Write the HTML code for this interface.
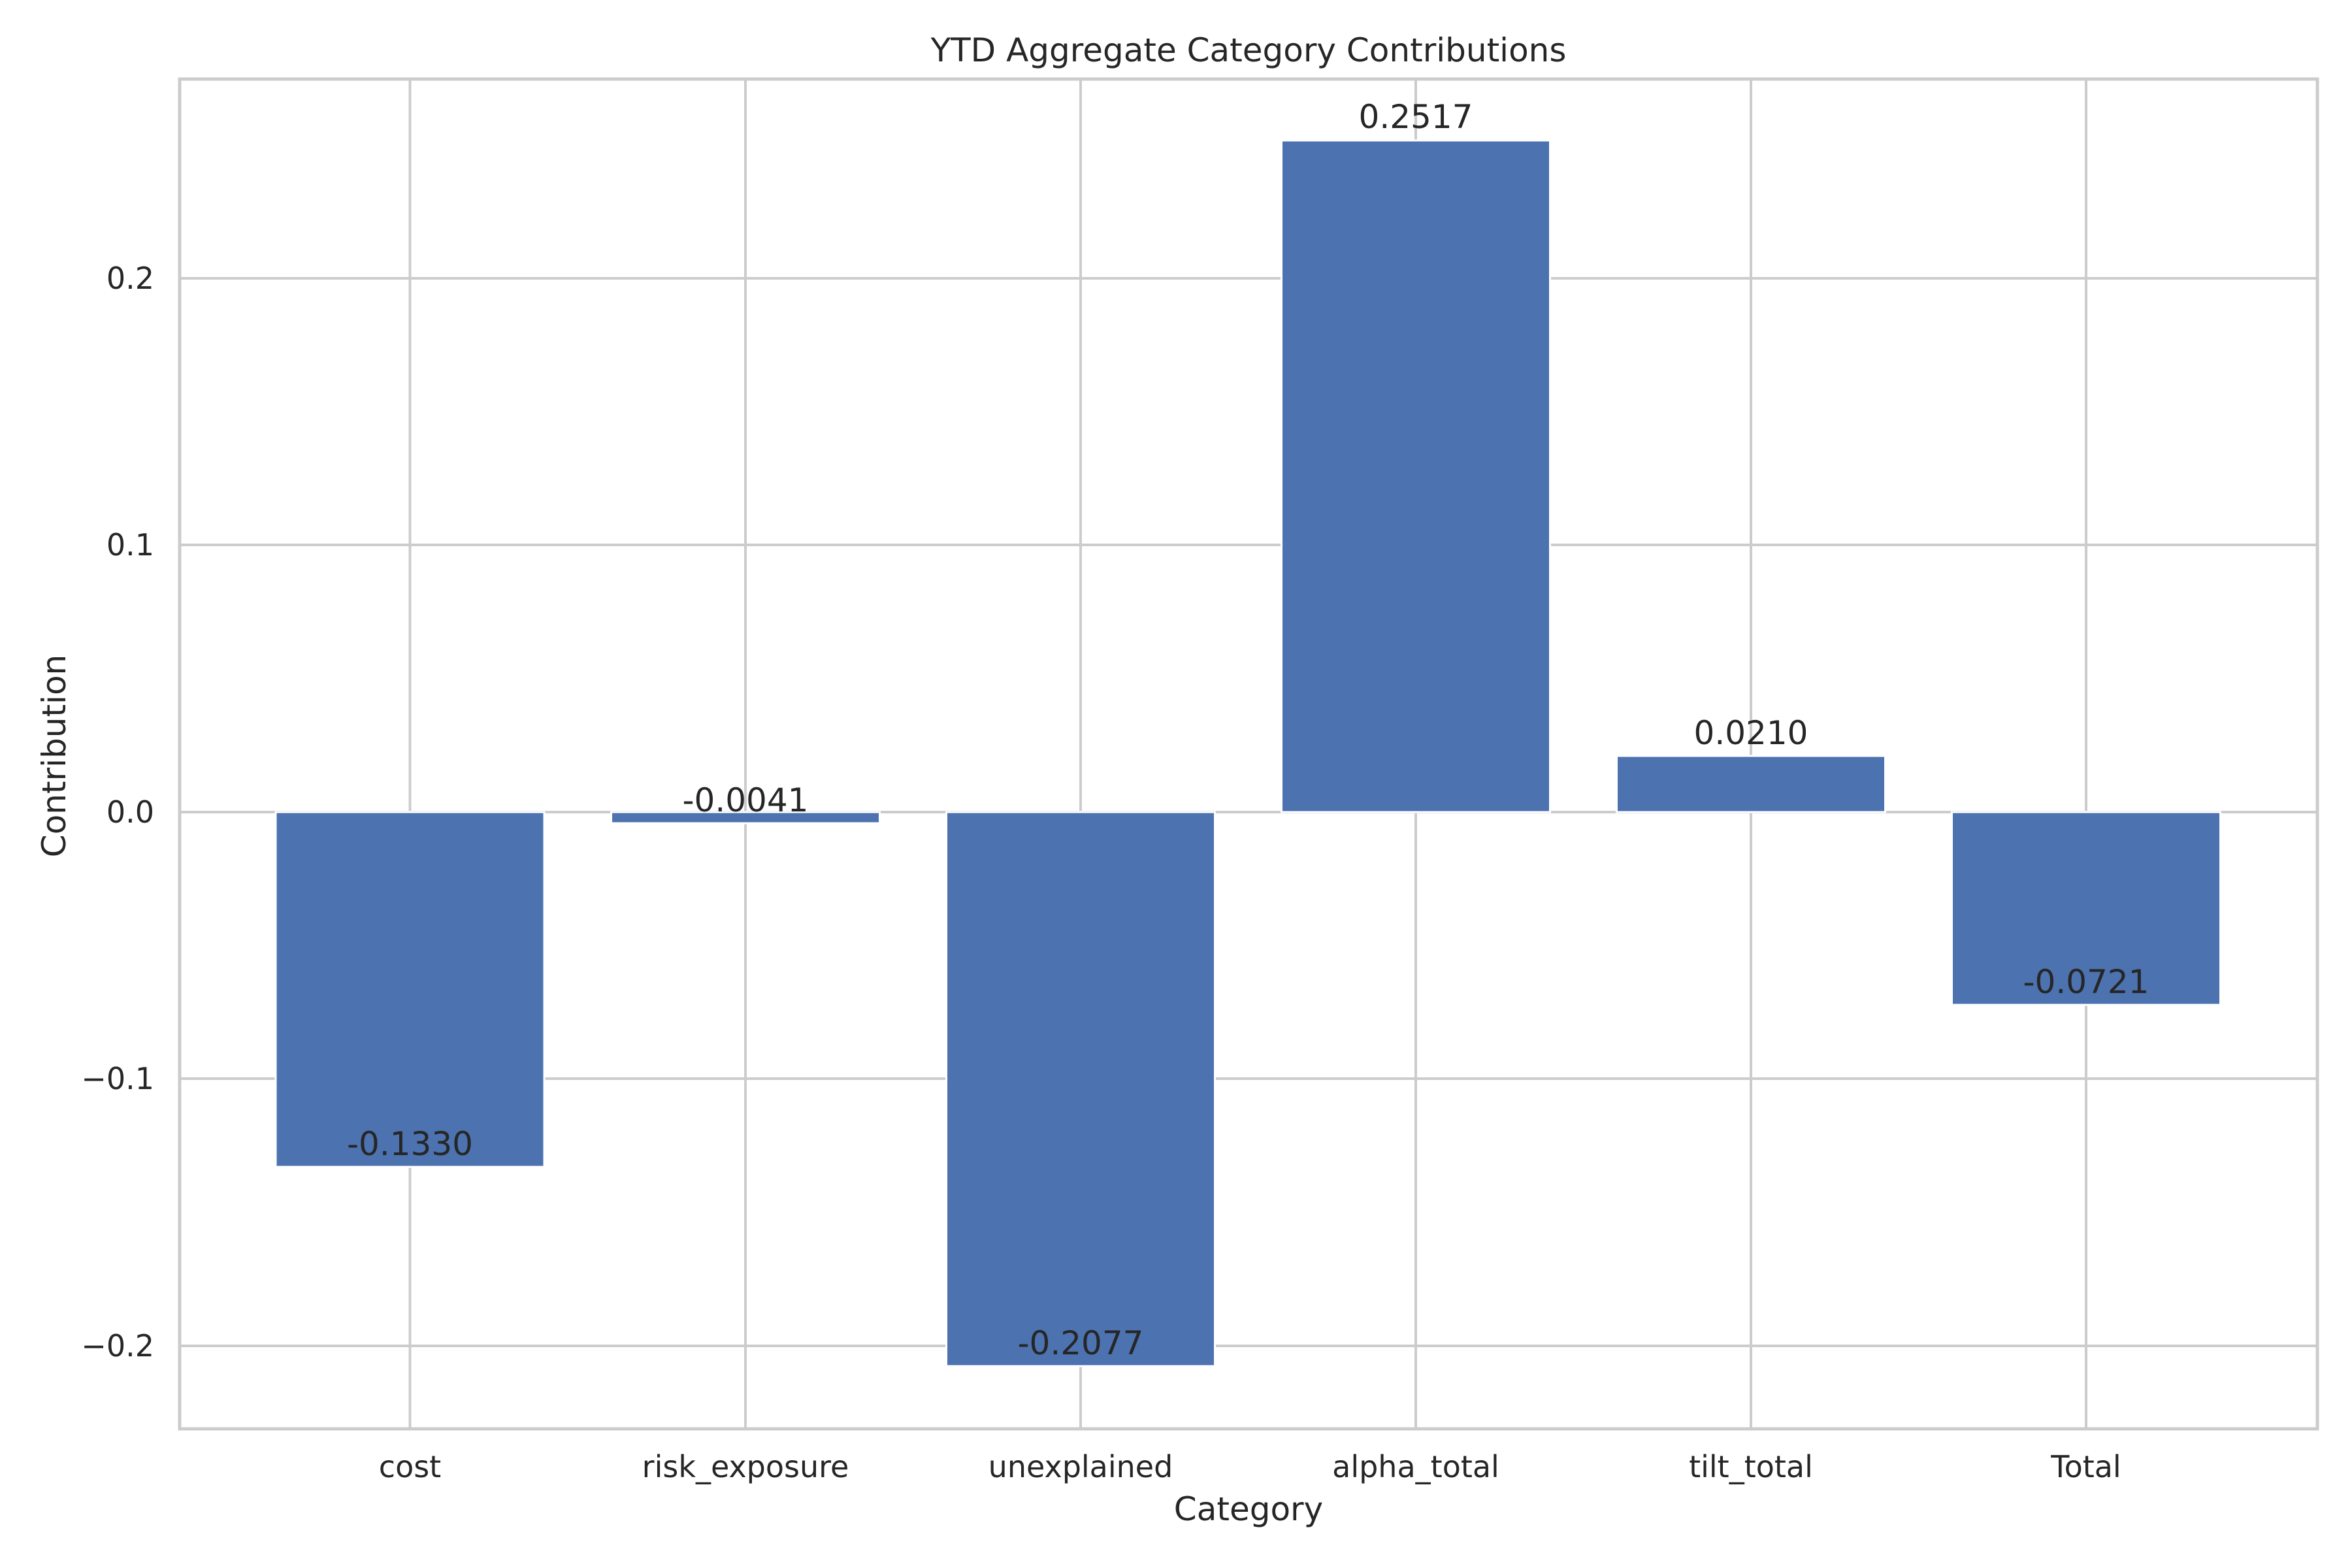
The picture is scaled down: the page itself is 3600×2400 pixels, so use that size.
<!DOCTYPE html>
<html><head><meta charset="utf-8"><style>html,body{margin:0;padding:0;background:#fff}svg{display:block}</style></head><body>
<svg width="3600" height="2400" viewBox="0 0 3600 2400" xmlns="http://www.w3.org/2000/svg" font-family="'DejaVu Sans','Liberation Sans',sans-serif" fill="#262626">
<rect width="3600" height="2400" fill="#fff"/>
<g stroke="#cccccc" stroke-width="4">
<line x1="275" x2="3547" y1="426" y2="426"/>
<line x1="275" x2="3547" y1="834" y2="834"/>
<line x1="275" x2="3547" y1="1243" y2="1243"/>
<line x1="275" x2="3547" y1="1651" y2="1651"/>
<line x1="275" x2="3547" y1="2060" y2="2060"/>
<line x1="627.5" x2="627.5" y1="121" y2="2187"/>
<line x1="1141" x2="1141" y1="121" y2="2187"/>
<line x1="1654" x2="1654" y1="121" y2="2187"/>
<line x1="2167" x2="2167" y1="121" y2="2187"/>
<line x1="2680" x2="2680" y1="121" y2="2187"/>
<line x1="3193" x2="3193" y1="121" y2="2187"/>
</g>
<g fill="#4c72b0" stroke="#fff" stroke-width="3">
<rect x="422" y="1243" width="411" height="543"/>
<rect x="935.5" y="1243" width="411" height="17"/>
<rect x="1448.5" y="1243" width="411" height="848"/>
<rect x="1961.5" y="215" width="411" height="1028"/>
<rect x="2474.5" y="1157" width="411" height="86"/>
<rect x="2987.5" y="1243" width="411" height="295"/>
</g>
<rect x="275" y="121" width="3272" height="2066" fill="none" stroke="#cccccc" stroke-width="5"/>
<g font-size="50" text-anchor="middle">
<text x="627.5" y="1768">-0.1330</text>
<text x="1141" y="1242">-0.0041</text>
<text x="1654" y="2073">-0.2077</text>
<text x="2167" y="196">0.2517</text>
<text x="2680" y="1139">0.0210</text>
<text x="3193" y="1520">-0.0721</text>
</g>
<g font-size="46" text-anchor="middle">
<text x="627.5" y="2261">cost</text>
<text x="1141" y="2261">risk_exposure</text>
<text x="1654" y="2261">unexplained</text>
<text x="2167" y="2261">alpha_total</text>
<text x="2680" y="2261">tilt_total</text>
<text x="3193" y="2261">Total</text>
</g>
<g font-size="46" text-anchor="end">
<text x="236" y="442">0.2</text>
<text x="236" y="850">0.1</text>
<text x="236" y="1259">0.0</text>
<text x="236" y="1667">−0.1</text>
<text x="236" y="2076">−0.2</text>
</g>
<text x="1911" y="94" font-size="50" text-anchor="middle">YTD Aggregate Category Contributions</text>
<text x="1911" y="2327" font-size="50" text-anchor="middle">Category</text>
<text transform="translate(100,1157) rotate(-90)" font-size="50" text-anchor="middle">Contribution</text>
</svg>
</body></html>
